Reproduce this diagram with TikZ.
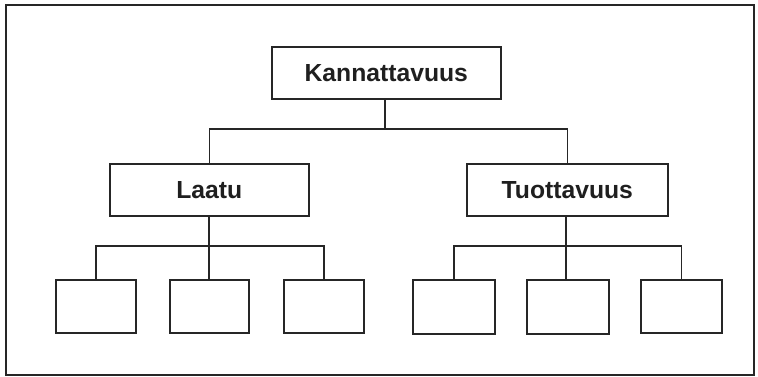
\documentclass[tikz,border=0pt]{standalone}
\usepackage{fontspec}
\setmainfont{Liberation Sans}
\begin{document}
\begin{tikzpicture}[x=1pt,y=-1pt,
  box/.style={draw=black!85,line width=1.6pt,fill=white,inner sep=0pt,anchor=north west},
  lbl/.style={font=\fontsize{24.7}{25}\selectfont\bfseries,text=black!88},
  link/.style={draw=black!85,line width=1.6pt}]
\useasboundingbox (0,0) rectangle (758,376);
\draw[line width=1.6pt,draw=black!85] (6,5) rectangle (754,375);
% top
\node[box,minimum width=229pt,minimum height=52pt] (k) at (271,46) {};
\node[lbl] at (k.center) {Kannattavuus};
\node[box,minimum width=199pt,minimum height=52pt] (l) at (109,163) {};
\node[lbl] at (l.center) {Laatu};
\node[box,minimum width=201pt,minimum height=52pt] (t) at (466,163) {};
\node[lbl] at (t.center) {Tuottavuus};
% children
\node[box,minimum width=80pt,minimum height=53pt] (l1) at (55,279) {};
\node[box,minimum width=79pt,minimum height=53pt] (l2) at (169,279) {};
\node[box,minimum width=80pt,minimum height=53pt] (l3) at (283,279) {};
\node[box,minimum width=82pt,minimum height=54pt] (t1) at (412,279) {};
\node[box,minimum width=82pt,minimum height=54pt] (t2) at (526,279) {};
\node[box,minimum width=81pt,minimum height=53pt] (t3) at (640,279) {};
% connectors
\coordinate (kj) at (385,129);
\draw[link] (k.south -| kj) -- (kj);
\draw[link] (l.north) |- (kj) -| (t.north);
\coordinate (lj) at (209,246);
\draw[link] (l.south -| lj) -- (l2.north -| lj);
\draw[link] (l1.north) |- (lj) -| (l3.north);
\coordinate (tj) at (566,246);
\draw[link] (t.south -| tj) -- (t2.north -| tj);
\draw[link] (t1.north) |- (tj) -| (t3.north);
\end{tikzpicture}
\end{document}
